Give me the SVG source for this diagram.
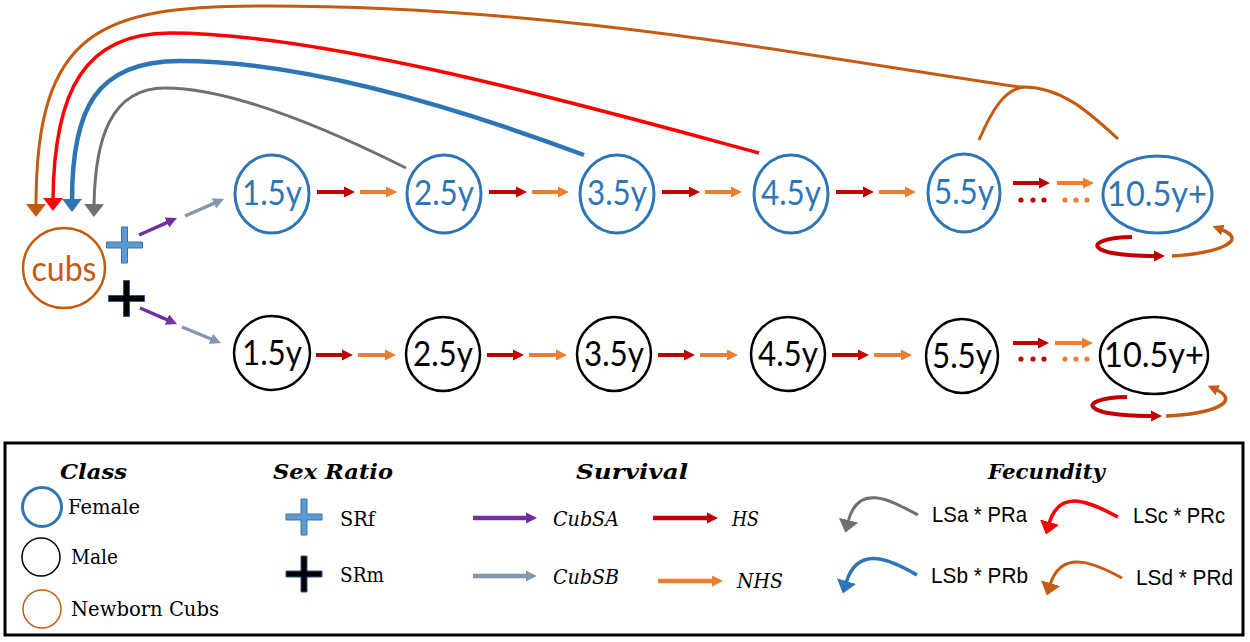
<svg xmlns="http://www.w3.org/2000/svg" xmlns:xlink="http://www.w3.org/1999/xlink" width="1250" height="642" viewBox="0 0 1250 642">
<style>
.nl{font-family:Lato,"Liberation Sans",sans-serif;font-size:35px;}
.fb{fill:#2e75b6}.fk{fill:#000}
.nb{fill:none;stroke:#2e75b6;stroke-width:3}
.nk{fill:none;stroke:#000;stroke-width:2.5}
.ar{stroke:#c00000;stroke-width:4;fill:none}
.ao{stroke:#ed7d31;stroke-width:4;fill:none}
.ap{stroke:#7030a0;stroke-width:3.5;fill:none}
.ag{stroke:#8497b0;stroke-width:3.5;fill:none}
.ttl{font-family:"DejaVu Serif","Liberation Serif",serif;font-weight:bold;font-style:italic;font-size:21px}
.lg{font-family:"DejaVu Serif","Liberation Serif",serif;font-size:20px}
.lgi{font-family:"DejaVu Serif","Liberation Serif",serif;font-style:italic;font-size:20px}
.ls{font-family:"Liberation Sans",sans-serif;font-size:22px}
</style>
<defs>
<marker id="hR" viewBox="0 -6 11 12" refX="3" refY="0" markerWidth="11" markerHeight="12" markerUnits="userSpaceOnUse" orient="auto"><path d="M0,-5.5 L11,0 L0,5.5 Z" fill="#c00000"/></marker>
<marker id="hO" viewBox="0 -6 11 12" refX="3" refY="0" markerWidth="11" markerHeight="12" markerUnits="userSpaceOnUse" orient="auto"><path d="M0,-5.5 L11,0 L0,5.5 Z" fill="#ed7d31"/></marker>
<marker id="hP" viewBox="0 -6 11 12" refX="3" refY="0" markerWidth="11" markerHeight="12" markerUnits="userSpaceOnUse" orient="auto"><path d="M0,-5.5 L11,0 L0,5.5 Z" fill="#7030a0"/></marker>
<marker id="hG" viewBox="0 -6 11 12" refX="3" refY="0" markerWidth="11" markerHeight="12" markerUnits="userSpaceOnUse" orient="auto"><path d="M0,-5.5 L11,0 L0,5.5 Z" fill="#8497b0"/></marker>
<marker id="hB" viewBox="0 -6 11 12" refX="3" refY="0" markerWidth="11" markerHeight="12" markerUnits="userSpaceOnUse" orient="auto"><path d="M0,-5.5 L11,0 L0,5.5 Z" fill="#c55a11"/></marker>
<marker id="fBr" viewBox="0 -10 13 20" refX="2" refY="0" markerWidth="13" markerHeight="20" markerUnits="userSpaceOnUse" orient="auto"><path d="M0,-10 L13,0 L0,10 Z" fill="#c55a11"/></marker>
<marker id="fRd" viewBox="0 -10 13 20" refX="2" refY="0" markerWidth="13" markerHeight="20" markerUnits="userSpaceOnUse" orient="auto"><path d="M0,-10 L13,0 L0,10 Z" fill="#ff0000"/></marker>
<marker id="fBl" viewBox="0 -10 13 20" refX="2" refY="0" markerWidth="13" markerHeight="20" markerUnits="userSpaceOnUse" orient="auto"><path d="M0,-10 L13,0 L0,10 Z" fill="#2e75b6"/></marker>
<marker id="fGy" viewBox="0 -10 13 20" refX="2" refY="0" markerWidth="13" markerHeight="20" markerUnits="userSpaceOnUse" orient="auto"><path d="M0,-10 L13,0 L0,10 Z" fill="#707070"/></marker>
<path id="plus" d="M-3,-18 h6 v15 h15 v6 h-15 v15 h-6 v-15 h-15 v-6 h15 z"/>
</defs>

<!-- nodes -->
<g id="cubs"><ellipse cx="64" cy="268" rx="41" ry="40" fill="none" stroke="#c55a11" stroke-width="2.5"/><text x="64" y="281" class="nl" fill="#c55a11" text-anchor="middle" textLength="65" lengthAdjust="spacingAndGlyphs">cubs</text></g>
<g id="plus-f"><use xlink:href="#plus" transform="translate(124.5,245)" fill="#5b9bd5" stroke="#41719c" stroke-width="1"/></g>
<g id="plus-m"><use xlink:href="#plus" transform="translate(126.5,298.5)" fill="#000" stroke="#2f5597" stroke-width="1"/></g>

<g id="f1"><ellipse cx="272" cy="194" rx="37" ry="39" class="nb"/><text x="272" y="205" class="nl fb" text-anchor="middle" textLength="60" lengthAdjust="spacingAndGlyphs">1.5y</text></g>
<g id="f2"><ellipse cx="444" cy="194" rx="37" ry="39" class="nb"/><text x="444" y="205" class="nl fb" text-anchor="middle" textLength="60" lengthAdjust="spacingAndGlyphs">2.5y</text></g>
<g id="f3"><ellipse cx="617" cy="194" rx="37" ry="39" class="nb"/><text x="617" y="205" class="nl fb" text-anchor="middle" textLength="60" lengthAdjust="spacingAndGlyphs">3.5y</text></g>
<g id="f4"><ellipse cx="791" cy="194" rx="37" ry="39" class="nb"/><text x="791" y="205" class="nl fb" text-anchor="middle" textLength="60" lengthAdjust="spacingAndGlyphs">4.5y</text></g>
<g id="f5"><ellipse cx="964" cy="193" rx="36" ry="39" class="nb"/><text x="964" y="204" class="nl fb" text-anchor="middle" textLength="60" lengthAdjust="spacingAndGlyphs">5.5y</text></g>
<g id="f10"><ellipse cx="1157.5" cy="194.5" rx="54.5" ry="38.5" class="nb"/><text x="1157" y="206" class="nl fb" text-anchor="middle" textLength="100" lengthAdjust="spacingAndGlyphs">10.5y+</text></g>

<g id="m1"><ellipse cx="272" cy="353" rx="38" ry="37" class="nk"/><text x="272" y="365" class="nl fk" text-anchor="middle" textLength="60" lengthAdjust="spacingAndGlyphs">1.5y</text></g>
<g id="m2"><ellipse cx="443" cy="354" rx="37" ry="37" class="nk"/><text x="443" y="366" class="nl fk" text-anchor="middle" textLength="60" lengthAdjust="spacingAndGlyphs">2.5y</text></g>
<g id="m3"><ellipse cx="614" cy="354" rx="37" ry="37" class="nk"/><text x="614" y="366" class="nl fk" text-anchor="middle" textLength="60" lengthAdjust="spacingAndGlyphs">3.5y</text></g>
<g id="m4"><ellipse cx="788" cy="354" rx="37" ry="37" class="nk"/><text x="788" y="366" class="nl fk" text-anchor="middle" textLength="60" lengthAdjust="spacingAndGlyphs">4.5y</text></g>
<g id="m5"><ellipse cx="962" cy="356" rx="36" ry="37" class="nk"/><text x="962" y="368" class="nl fk" text-anchor="middle" textLength="60" lengthAdjust="spacingAndGlyphs">5.5y</text></g>
<g id="m10"><ellipse cx="1154" cy="355.5" rx="54" ry="38.5" class="nk"/><text x="1154" y="367" class="nl fk" text-anchor="middle" textLength="100" lengthAdjust="spacingAndGlyphs">10.5y+</text></g>

<!-- connectors -->
<g id="connectors">
<line x1="139" y1="235" x2="169.7" y2="221.3" class="ap" marker-end="url(#hP)"/>
<line x1="185" y1="216" x2="216.7" y2="202.2" class="ag" marker-end="url(#hG)"/>
<line x1="140" y1="308" x2="169.7" y2="320.8" class="ap" marker-end="url(#hP)"/>
<line x1="182" y1="327" x2="213.6" y2="340" class="ag" marker-end="url(#hG)"/>

<line x1="317" y1="192" x2="347" y2="192" class="ar" marker-end="url(#hR)"/>
<line x1="360" y1="192" x2="389" y2="192" class="ao" marker-end="url(#hO)"/>
<line x1="489" y1="192" x2="519" y2="192" class="ar" marker-end="url(#hR)"/>
<line x1="532" y1="192" x2="561" y2="192" class="ao" marker-end="url(#hO)"/>
<line x1="662" y1="192" x2="692" y2="192" class="ar" marker-end="url(#hR)"/>
<line x1="705" y1="192" x2="734" y2="192" class="ao" marker-end="url(#hO)"/>
<line x1="836" y1="192" x2="866" y2="192" class="ar" marker-end="url(#hR)"/>
<line x1="879" y1="192" x2="908" y2="192" class="ao" marker-end="url(#hO)"/>
<line x1="1013" y1="183" x2="1042" y2="183" class="ar" marker-end="url(#hR)"/>
<line x1="1057" y1="183" x2="1086" y2="183" class="ao" marker-end="url(#hO)"/>
<g fill="#c00000"><circle cx="1021" cy="200" r="2.6"/><circle cx="1033" cy="200" r="2.6"/><circle cx="1044" cy="200" r="2.6"/></g>
<g fill="#ed7d31"><circle cx="1065" cy="200" r="2.6"/><circle cx="1076" cy="200" r="2.6"/><circle cx="1087" cy="200" r="2.6"/></g>

<line x1="316" y1="355" x2="345" y2="355" class="ar" marker-end="url(#hR)"/>
<line x1="358" y1="355" x2="388" y2="355" class="ao" marker-end="url(#hO)"/>
<line x1="487" y1="355" x2="516" y2="355" class="ar" marker-end="url(#hR)"/>
<line x1="529" y1="355" x2="559" y2="355" class="ao" marker-end="url(#hO)"/>
<line x1="658" y1="355" x2="687" y2="355" class="ar" marker-end="url(#hR)"/>
<line x1="700" y1="355" x2="730" y2="355" class="ao" marker-end="url(#hO)"/>
<line x1="832" y1="355" x2="861" y2="355" class="ar" marker-end="url(#hR)"/>
<line x1="874" y1="355" x2="904" y2="355" class="ao" marker-end="url(#hO)"/>
<line x1="1013" y1="343" x2="1041" y2="343" class="ar" marker-end="url(#hR)"/>
<line x1="1055" y1="343" x2="1085" y2="343" class="ao" marker-end="url(#hO)"/>
<g fill="#c00000"><circle cx="1021" cy="359" r="2.6"/><circle cx="1033" cy="359" r="2.6"/><circle cx="1044" cy="359" r="2.6"/></g>
<g fill="#ed7d31"><circle cx="1065" cy="359" r="2.6"/><circle cx="1076" cy="359" r="2.6"/><circle cx="1087" cy="359" r="2.6"/></g>

<path d="M1132 237 C1080 238 1085 257 1157 256" class="ar" stroke-width="3.5" marker-end="url(#hR)"/>
<path d="M1172 256 C1220 253 1250 240 1220 229" fill="none" stroke="#c55a11" stroke-width="3.5" marker-end="url(#hB)"/>
<path d="M1127 397 C1075 398 1080 417 1154 416" class="ar" stroke-width="3.5" marker-end="url(#hR)"/>
<path d="M1166 416 C1212 414 1243 402 1215 389" fill="none" stroke="#c55a11" stroke-width="3.5" marker-end="url(#hB)"/>

<path d="M1118 139 C1090 113 1060 85 1020 87 C800 55 550 5 261 6 C100 6 36 30 36 206" fill="none" stroke="#c55a11" stroke-width="3" marker-end="url(#fBr)"/>
<path d="M979 140 C992 110 1005 88 1025 87" fill="none" stroke="#c55a11" stroke-width="3"/>
<path d="M759 153 C600 110 330 33 170 33 C85 33 54 90 53 200" fill="none" stroke="#ff0000" stroke-width="3.5" marker-end="url(#fRd)"/>
<path d="M584 155 C450 105 300 61 180 61 C95 61 72 110 72 201" fill="none" stroke="#2e75b6" stroke-width="4.5" marker-end="url(#fBl)"/>
<path d="M406 168 C320 125 230 88 165 88 C110 88 95 140 94 206" fill="none" stroke="#707070" stroke-width="3" marker-end="url(#fGy)"/>
</g>

<!-- legend -->
<g id="legend">
<rect x="5" y="443" width="1238" height="192" fill="none" stroke="#000" stroke-width="3"/>
<text x="60" y="479" class="ttl" textLength="67" lengthAdjust="spacingAndGlyphs">Class</text>
<text x="273" y="479" class="ttl" textLength="120" lengthAdjust="spacingAndGlyphs">Sex Ratio</text>
<text x="576" y="479" class="ttl" textLength="112" lengthAdjust="spacingAndGlyphs">Survival</text>
<text x="988" y="479" class="ttl" textLength="117" lengthAdjust="spacingAndGlyphs">Fecundity</text>

<circle cx="42" cy="507" r="19.5" fill="none" stroke="#2e75b6" stroke-width="3"/>
<text x="68" y="514" class="lg" textLength="72" lengthAdjust="spacingAndGlyphs">Female</text>
<circle cx="41" cy="557" r="19" fill="none" stroke="#000" stroke-width="1.5"/>
<text x="71" y="564" class="lg" textLength="47" lengthAdjust="spacingAndGlyphs">Male</text>
<circle cx="42" cy="609" r="19" fill="none" stroke="#c55a11" stroke-width="1.5"/>
<text x="71" y="616" class="lg" textLength="148" lengthAdjust="spacingAndGlyphs">Newborn Cubs</text>

<use xlink:href="#plus" transform="translate(304,517)" fill="#5b9bd5" stroke="#41719c" stroke-width="1"/>
<text x="340" y="526" class="lg" textLength="35" lengthAdjust="spacingAndGlyphs">SRf</text>
<use xlink:href="#plus" transform="translate(304,574)" fill="#000" stroke="#2f5597" stroke-width="1"/>
<text x="340" y="582" class="lg" textLength="44" lengthAdjust="spacingAndGlyphs">SRm</text>

<line x1="473" y1="518" x2="529" y2="518" stroke="#7030a0" stroke-width="4.5" marker-end="url(#hP)"/>
<text x="553" y="526" class="lgi" textLength="66" lengthAdjust="spacingAndGlyphs">CubSA</text>
<line x1="653" y1="518" x2="710" y2="518" stroke="#c00000" stroke-width="4.5" marker-end="url(#hR)"/>
<text x="732" y="526" class="lgi" textLength="27" lengthAdjust="spacingAndGlyphs">HS</text>
<line x1="473" y1="576" x2="529" y2="576" stroke="#8497b0" stroke-width="4.5" marker-end="url(#hG)"/>
<text x="553" y="584" class="lgi" textLength="66" lengthAdjust="spacingAndGlyphs">CubSB</text>
<line x1="658" y1="581" x2="715" y2="581" stroke="#ed7d31" stroke-width="4.5" marker-end="url(#hO)"/>
<text x="737" y="588" class="lgi" textLength="46" lengthAdjust="spacingAndGlyphs">NHS</text>

<path d="M918 515 C890 500 858 482 848 522" fill="none" stroke="#707070" stroke-width="3" marker-end="url(#fGy)"/>
<text x="932" y="522" class="ls" textLength="95" lengthAdjust="spacingAndGlyphs">LSa * PRa</text>
<path d="M1118 517 C1095 505 1060 485 1049 524" fill="none" stroke="#ff0000" stroke-width="3.5" marker-end="url(#fRd)"/>
<text x="1133" y="523" class="ls" textLength="92" lengthAdjust="spacingAndGlyphs">LSc * PRc</text>
<path d="M917 575 C893 561 858 543 846 583" fill="none" stroke="#2e75b6" stroke-width="3.5" marker-end="url(#fBl)"/>
<text x="931" y="583" class="ls" textLength="97" lengthAdjust="spacingAndGlyphs">LSb * PRb</text>
<path d="M1122 578 C1100 566 1062 546 1050 585" fill="none" stroke="#c55a11" stroke-width="3" marker-end="url(#fBr)"/>
<text x="1136" y="585" class="ls" textLength="97" lengthAdjust="spacingAndGlyphs">LSd * PRd</text>
</g>
</svg>
